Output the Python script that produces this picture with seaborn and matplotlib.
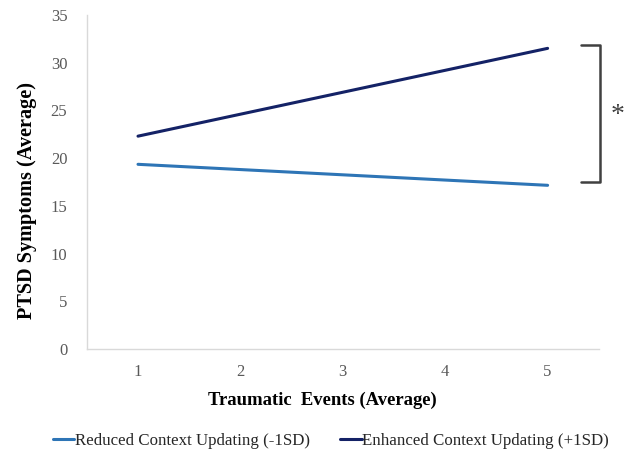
import matplotlib
matplotlib.use("Agg")
import matplotlib.pyplot as plt
import seaborn as sns
import pandas as pd
from matplotlib.lines import Line2D

events = [1, 2, 3, 4, 5]
reduced = [19.35, 18.8, 18.25, 17.7, 17.15]
enhanced = [22.3, 24.6, 26.9, 29.2, 31.5]
series_names = ["Reduced Context Updating (-1SD)", "Enhanced Context Updating (+1SD)"]
y_ticks = [0, 5, 10, 15, 20, 25, 30, 35]
colors = ["#2E75B6", "#142266"]

df = pd.DataFrame({
    "x": events * 2,
    "y": reduced + enhanced,
    "series": [series_names[0]] * 5 + [series_names[1]] * 5,
})

sns.set_theme(style="white")
plt.rcParams["font.family"] = ["Liberation Serif", "DejaVu Serif"]

fig = plt.figure(figsize=(6.29, 4.53), dpi=100)
ax = fig.add_axes([0.138, 0.2296, 0.814, 0.7374])

sns.lineplot(data=df, x="x", y="y", hue="series",
             palette=colors, linewidth=2.2, ax=ax, legend=False)

ax.set_xlim(0.5, 5.5)
ax.set_ylim(0, 35)
ax.set_xticks(events)
ax.set_yticks(y_ticks)
ax.tick_params(axis="both", length=0, labelsize=12, colors="#595959")
ax.tick_params(axis="x", pad=11)
ax.tick_params(axis="y", pad=14)
for s in ["top", "right"]:
    ax.spines[s].set_visible(False)
ax.spines["left"].set_color("#D9D9D9")
ax.spines["bottom"].set_color("#D9D9D9")
ax.spines["left"].set_linewidth(1)
ax.spines["bottom"].set_linewidth(1)

ax.set_xlabel("Traumatic  Events (Average)", fontsize=13.4, fontweight="bold", color="black")
ax.set_ylabel("PTSD Symptoms (Average)", fontsize=14.6, fontweight="bold", color="black")
ax.xaxis.set_label_coords(0.461, -0.128)
ax.yaxis.set_label_coords(-0.097, 0.446)

# significance bracket
fig.lines.append(Line2D([581/629, 600/629, 600/629, 581/629],
                        [1-45/453, 1-45/453, 1-182/453, 1-182/453],
                        transform=fig.transFigure, color="#404040", linewidth=1.8))
fig.text(618/629, 1-116/453, "*", fontsize=20, ha="center", va="center", color="#404040")

# legend
handles = [Line2D([0], [0], color=colors[0], lw=2.2), Line2D([0], [0], color=colors[1], lw=2.2)]
fig.legend(handles, series_names, loc="center", bbox_to_anchor=(331/629, 1-441/453), ncol=2,
           frameon=False, fontsize=12.2, handlelength=1.25, handletextpad=0.05, columnspacing=1.8,
           borderaxespad=0, borderpad=0)

fig.savefig("out.png", dpi=100)
